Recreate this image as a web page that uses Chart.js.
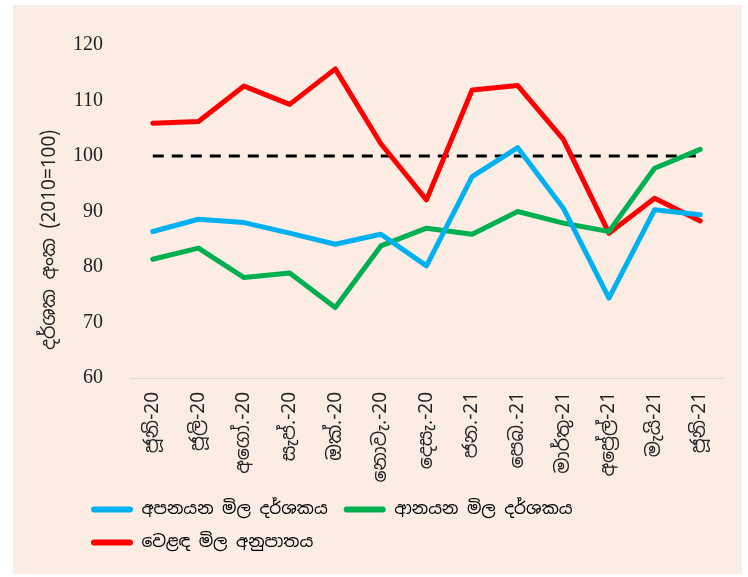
<!DOCTYPE html>
<html lang="si">
<head>
<meta charset="UTF-8">
<title>අපනයන හා ආනයන මිල දර්ශක</title>
<script src="https://cdn.jsdelivr.net/npm/chart.js"></script>
<style>
    body {
        margin: 0;
        padding: 0;
        background: #ffffff;
    }
    .panel {
        position: absolute;
        left: 13px;
        top: 5px;
        width: 729px;
        height: 569px;
        background: #fbece4;
    }
</style>
</head>
<body>
<div class="panel">
    <canvas id="chart" width="729" height="569"></canvas>
</div>
<script>
    // දත්ත
    const months = ['ජූනි-20', 'ජූලි-20', 'අගෝ.-20', 'සැප්.-20', 'ඔක්.-20', 'නොවැ.-20', 'දෙසැ.-20',
        'ජන.-21', 'පෙබ.-21', 'මාර්තු-21', 'අප්‍රේල්-21', 'මැයි-21', 'ජූනි-21'];
    const exportIndex = [86.4, 88.6, 88.0, 86.1, 84.1, 85.9, 80.2, 96.3, 101.5, 90.6, 74.4, 90.3, 89.4];
    const importIndex = [81.4, 83.4, 78.1, 78.9, 72.7, 83.8, 87.0, 85.9, 90.0, 87.9, 86.4, 97.8, 101.2];
    const termsOfTrade = [105.9, 106.2, 112.6, 109.3, 115.7, 102.2, 92.1, 111.9, 112.7, 103.0, 86.1, 92.4, 88.3];
    const baseLine = [100, 100, 100, 100, 100, 100, 100, 100, 100, 100, 100, 100, 100];
    const yTicks = { min: 60, max: 120, step: 10 };
    const yTitle = 'දර්ශක අංක (2010=100)';

    const sinhala = '"Noto Sans Sinhala", "Iskoola Pota", "Noto Sans", sans-serif';

    // legend එක වමට තල්ලු කරන්න
    const legendShift = {
        id: 'legendShift',
        afterLayout(chart) {
            chart.legend.left += 62;
        }
    };

    // y අක්ෂ මාතෘකාව (Excel වගේ ටිකක් පහළට)
    const axisTitle = {
        id: 'axisTitle',
        afterDraw(chart) {
            const ctx = chart.ctx;
            const area = chart.chartArea;
            ctx.save();
            ctx.translate(37, area.top + area.height * 0.585);
            ctx.rotate(-Math.PI / 2);
            ctx.textAlign = 'center';
            ctx.textBaseline = 'middle';
            ctx.fillStyle = '#222222';
            ctx.font = '19px ' + sinhala;
            ctx.fillText(yTitle, 0, 0);
            ctx.restore();
        }
    };

    function lineSet(label, data, color) {
        return {
            label: label,
            data: data,
            borderColor: color,
            backgroundColor: color,
            borderWidth: 5,
            pointRadius: 0,
            tension: 0,
            borderJoinStyle: 'round',
            borderCapStyle: 'round'
        };
    }

    new Chart(document.getElementById('chart'), {
        type: 'line',
        data: {
            labels: months,
            datasets: [
                lineSet('අපනයන මිල දර්ශකය', exportIndex, '#00b0f0'),
                lineSet('ආනයන මිල දර්ශකය', importIndex, '#00b050'),
                lineSet('වෙළඳ මිල අනුපාතය', termsOfTrade, '#ff0000'),
                {
                    label: 'base',
                    data: baseLine,
                    borderColor: '#000000',
                    borderWidth: 3,
                    borderDash: [11, 8],
                    pointRadius: 0,
                    tension: 0
                }
            ]
        },
        options: {
            responsive: false,
            animation: false,
            layout: {
                padding: { top: 40, right: 19, bottom: 13, left: 0 }
            },
            scales: {
                x: {
                    offset: true,
                    grid: { display: false },
                    border: { display: true, color: '#d9d9d9', width: 1 },
                    ticks: {
                        minRotation: 90,
                        maxRotation: 90,
                        autoSkip: false,
                        padding: 6,
                        color: '#222222',
                        font: { family: sinhala, size: 19 }
                    },
                    afterFit(scale) { scale.height = 107; }
                },
                y: {
                    min: yTicks.min,
                    max: yTicks.max,
                    grid: { display: false },
                    border: { display: false },
                    ticks: {
                        stepSize: yTicks.step,
                        padding: 19,
                        color: '#222222',
                        font: { family: '"Liberation Serif", "DejaVu Serif", serif', size: 20 }
                    },
                    afterFit(scale) { scale.width = 117; }
                }
            },
            plugins: {
                tooltip: { enabled: false },
                legend: {
                    position: 'bottom',
                    align: 'start',
                    labels: {
                        boxWidth: 42,
                        boxHeight: 6,
                        padding: 16,
                        color: '#111111',
                        font: { family: sinhala, size: 17 },
                        filter: item => item.text !== 'base',
                        generateLabels(chart) {
                            return chart.data.datasets.map((ds, i) => ({
                                text: ds.label,
                                fillStyle: ds.borderColor,
                                strokeStyle: ds.borderColor,
                                lineWidth: 0,
                                borderRadius: 3,
                                datasetIndex: i
                            }));
                        },
                        useBorderRadius: true,
                        borderRadius: 3
                    }
                }
            }
        },
        plugins: [legendShift, axisTitle]
    });
</script>
</body>
</html>
